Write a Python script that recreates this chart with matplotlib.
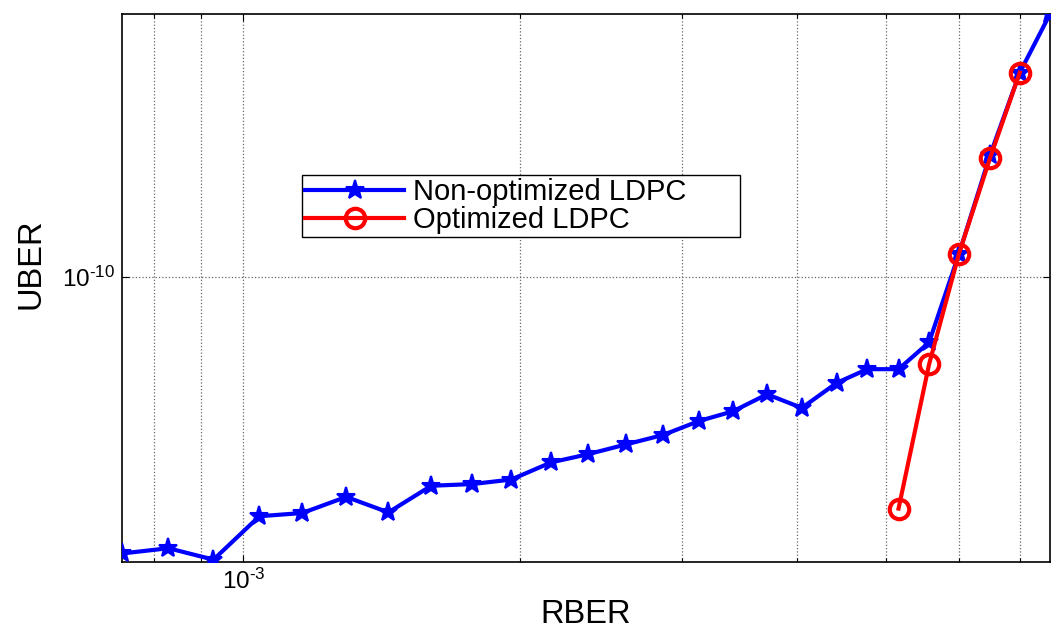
import matplotlib
matplotlib.use("Agg")
import matplotlib.pyplot as plt
from matplotlib.ticker import LogLocator, FixedLocator, NullLocator, NullFormatter, FixedFormatter

# Data
rber_non = [7.38e-4, 8.29e-4, 9.28e-4, 1.041e-3, 1.159e-3, 1.294e-3, 1.438e-3, 1.601e-3,
            1.774e-3, 1.956e-3, 2.162e-3, 2.371e-3, 2.608e-3, 2.861e-3, 3.13e-3, 3.41e-3,
            3.712e-3, 4.05e-3, 4.42e-3, 4.77e-3, 5.16e-3, 5.57e-3, 6.0e-3, 6.49e-3,
            6.99e-3, 7.54e-3]
uber_non = [3.13e-11, 3.20e-11, 3.05e-11, 3.66e-11, 3.71e-11, 3.97e-11, 3.72e-11, 4.16e-11,
            4.19e-11, 4.27e-11, 4.59e-11, 4.75e-11, 4.95e-11, 5.15e-11, 5.46e-11, 5.69e-11,
            6.11e-11, 5.77e-11, 6.41e-11, 6.79e-11, 6.79e-11, 7.60e-11, 1.10e-10, 1.67e-10,
            2.36e-10, 3.02e-10]
rber_opt = [5.16e-3, 5.57e-3, 6.0e-3, 6.49e-3, 6.99e-3]
uber_opt = [3.78e-11, 6.93e-11, 1.10e-10, 1.65e-10, 2.36e-10]

labels = ["Non-optimized LDPC", "Optimized LDPC"]
x_major = [1e-3]
x_major_labels = [r"$\mathregular{10^{\text{-}3}}$"]
y_major = [1e-10]
y_major_labels = [r"$\mathregular{10^{\text{-}10}}$"]

plt.rcParams['font.family'] = ['Liberation Sans', 'DejaVu Sans']
plt.rcParams['mathtext.fontset'] = 'custom'
plt.rcParams['mathtext.rm'] = 'Liberation Sans'

fig = plt.figure(figsize=(10.52, 6.32), dpi=100)
ax = fig.add_axes([122/1052, 1-562/632, (1050-122)/1052, (562-14)/632])

ax.set_xscale('log')
ax.set_yscale('log')

ax.plot(rber_non, uber_non, color='#0000ff', lw=3, marker='*', ms=14, mew=1.5,
        label=labels[0], zorder=3)
ax.plot(rber_opt, uber_opt, color='#ff0000', lw=3, marker='o', ms=14, mew=3,
        mfc='none', mec='#ff0000', label=labels[1], zorder=4)

ax.set_xlim(rber_non[0], rber_non[-1])
ax.set_ylim(10**-10.52, 10**-9.52)

ax.xaxis.set_major_locator(FixedLocator(x_major))
ax.xaxis.set_major_formatter(FixedFormatter(x_major_labels))
ax.xaxis.set_minor_locator(LogLocator(base=10, subs=range(2, 10), numticks=20))
ax.xaxis.set_minor_formatter(NullFormatter())
ax.yaxis.set_major_locator(FixedLocator(y_major))
ax.yaxis.set_major_formatter(FixedFormatter(y_major_labels))
ax.yaxis.set_minor_locator(NullLocator())

ax.tick_params(which='both', direction='in', top=True, right=True, labelsize=17.5,
               length=5, width=0.8, pad=5)
ax.tick_params(which='minor', length=3)
ax.grid(True, which='both', axis='x', color='#666666', ls=':', lw=0.9)
ax.grid(True, which='major', axis='y', color='#666666', ls=':', lw=0.9)
for s in ax.spines.values():
    s.set_linewidth(1.2)
    s.set_color('black')

ax.set_xlabel("RBER", fontsize=23.5)
ax.xaxis.set_label_coords(0.5, (562-623)/548)
ax.xaxis.label.set_va('baseline')
ax.set_ylabel("UBER", fontsize=23.5)
ax.yaxis.set_label_coords((46-122)/928, (562-264)/548)

x0 = (302-122)/928
y_top = (562-175)/548
w = (740-302)/928
h = 67/548
leg = ax.legend(loc='upper left', bbox_to_anchor=(x0, y_top - h, w, h), mode='expand',
                fontsize=21, frameon=True, fancybox=False, framealpha=1,
                edgecolor='black', borderpad=0.1, labelspacing=0.0,
                handlelength=3.4, handletextpad=0.3, borderaxespad=0)
leg.get_frame().set_linewidth(1.0)

fig.savefig("out.png", dpi=100)
